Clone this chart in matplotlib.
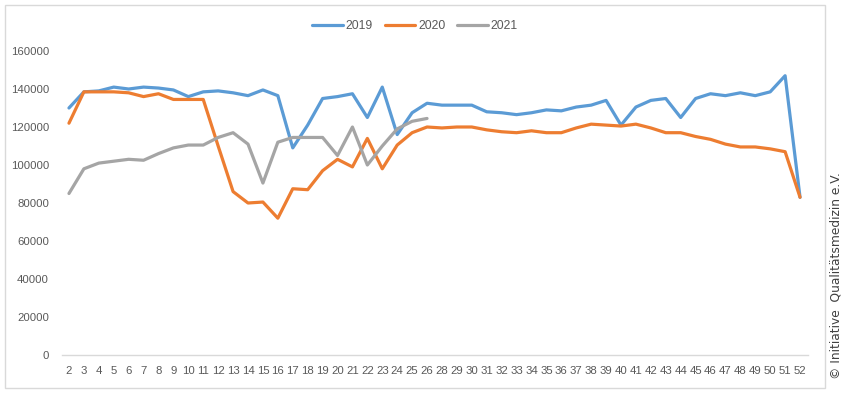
import matplotlib
matplotlib.use("Agg")
import matplotlib.pyplot as plt
from matplotlib import font_manager
from matplotlib.patches import Rectangle

weeks = [str(w) for w in list(range(2, 27)) + list(range(28, 53))]

y2019 = [130000, 138500, 139000, 141000, 140000, 141000, 140500, 139500, 136000, 138500,
         139000, 138000, 136500, 139500, 136500, 109000, 121000, 135000, 136000, 137500,
         125000, 141000, 116000, 127500, 132500,
         131500, 131500, 131500, 128000, 127500, 126500, 127500, 129000, 128500, 130500,
         131500, 134000, 121000, 130500, 134000, 135000, 125000, 135000, 137500, 136500,
         138000, 136500, 138500, 147000, 83000]

y2020 = [122000, 138500, 138500, 138500, 138000, 136000, 137500, 134500, 134500, 134500,
         110000, 86000, 80000, 80500, 72000, 87500, 87000, 97000, 103000, 99000,
         114000, 98000, 110500, 117000, 120000,
         119500, 120000, 120000, 118500, 117500, 117000, 118000, 117000, 117000, 119500,
         121500, 121000, 120500, 121500, 119500, 117000, 117000, 115000, 113500, 111000,
         109500, 109500, 108500, 107000, 83000]

y2021 = [85000, 98000, 101000, 102000, 103000, 102500, 106000, 109000, 110500, 110500,
         114500, 117000, 111000, 90500, 112000, 114500, 114500, 114500, 105000, 120000,
         100000, 110000, 119000, 123000, 124500]

yticks = [0, 20000, 40000, 60000, 80000, 100000, 120000, 140000, 160000]

try:
    font_manager.findfont(font_manager.FontProperties(family='Liberation Sans Narrow'),
                          fallback_to_default=False)
    fam, fs = 'Liberation Sans Narrow', 9.5
except Exception:
    fam, fs = 'Liberation Sans', 8.2
plt.rcParams['font.family'] = [fam, 'DejaVu Sans']

W, H = 847, 393
fig = plt.figure(figsize=(W / 100, H / 100), dpi=100)
ax = fig.add_axes([61.5 / W, (H - 355) / H, 746 / W, 304 / H])

x = list(range(len(weeks)))
kw = dict(lw=2.3, solid_capstyle='round', solid_joinstyle='round')
l1, = ax.plot(x, y2019, color='#5B9BD5', label='2019', **kw)
l2, = ax.plot(x, y2020, color='#ED7D31', label='2020', **kw)
l3, = ax.plot(x[:len(y2021)], y2021, color='#A5A5A5', label='2021', **kw)

ax.set_xlim(-0.5, len(weeks) - 0.5)
ax.set_ylim(0, 160000)
ax.set_xticks(x)
ax.set_xticklabels(weeks)
ax.set_yticks(yticks)
ax.set_yticklabels([str(v) for v in yticks])
ax.tick_params(axis='both', length=0, labelsize=fs, colors='#595959')
ax.tick_params(axis='x', pad=8)
ax.tick_params(axis='y', pad=9)
for s in ['top', 'right', 'left']:
    ax.spines[s].set_visible(False)
ax.spines['bottom'].set_color('#D9D9D9')
ax.spines['bottom'].set_linewidth(1.0)

fig.legend(handles=[l1, l2, l3], loc='center', bbox_to_anchor=(415 / W, 1 - 26 / H),
           ncol=3, frameon=False, fontsize=fs + 0.6, handlelength=2.5, handletextpad=0.2,
           columnspacing=1.0, labelcolor='#595959')

fig.patches.append(Rectangle((5 / W, 5 / H), 820 / W, 383 / H, transform=fig.transFigure,
                             fill=False, edgecolor='#D9D9D9', lw=1.0))

fig.text(836 / W, 1 - 276 / H, '© Initiative  Qualitätsmedizin e.V.', rotation=90,
         ha='center', va='center', fontsize=8.8, color='#404040', family=['DejaVu Sans'])

fig.savefig('out.png', dpi=100)
